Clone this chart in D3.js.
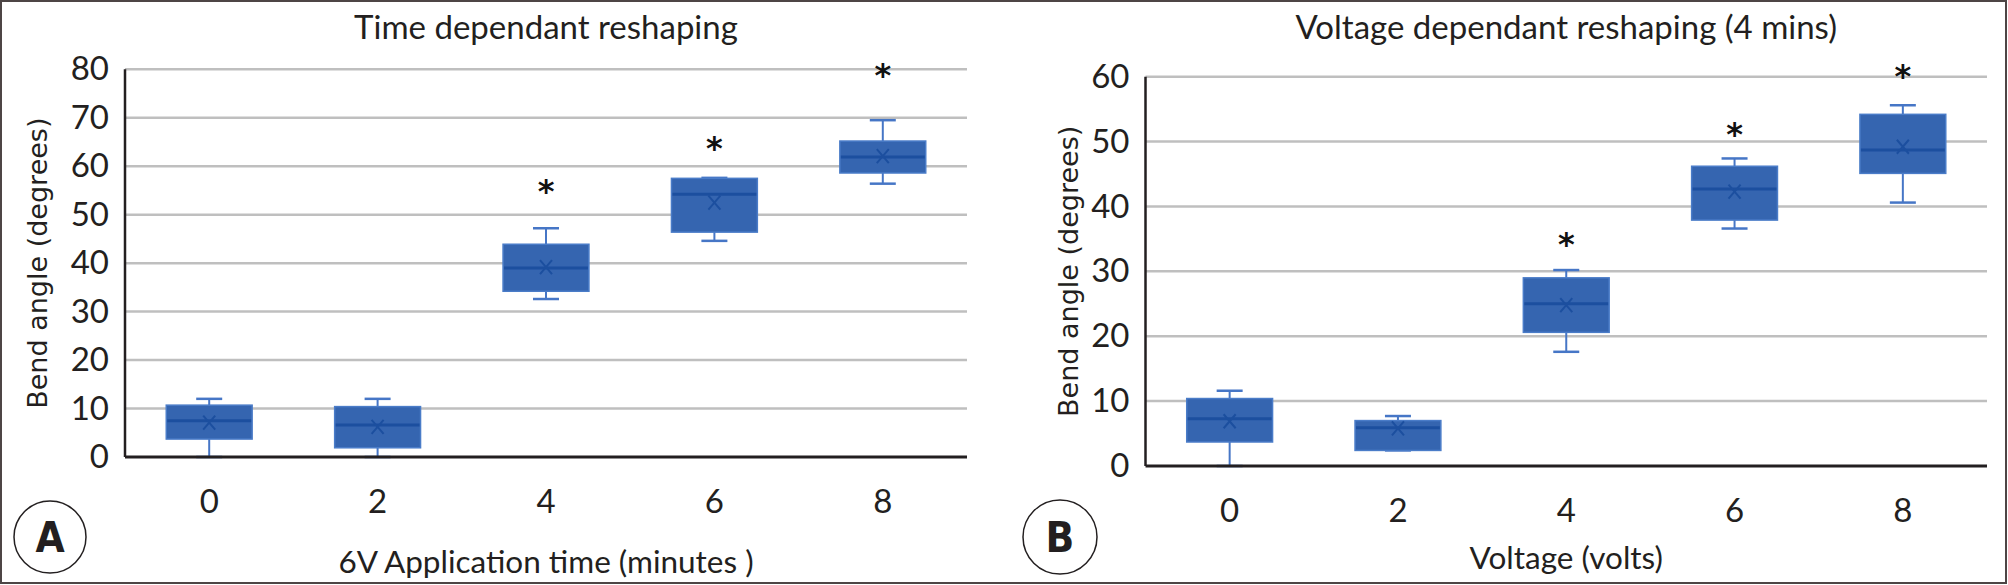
<!DOCTYPE html>
<html>
<head>
<meta charset="utf-8">
<script src="https://cdn.jsdelivr.net/npm/d3@7"></script>
<style>
  body { margin: 0; background: #fff; }
  svg { display: block; }
  .tick-label, .chart-title, .x-title { font-family: Lato, "Noto Sans", sans-serif; fill: #231f20; }
  .y-title { font-family: "DejaVu Sans", Verdana, sans-serif; fill: #231f20; }
  .panel-letter { font-family: "Liberation Sans Narrow", "DejaVu Sans Condensed", sans-serif; font-weight: bold; fill: #231f20; }
</style>
</head>
<body>
<div id="main"></div>
<script>
/*********************************************************
 * Data
 *********************************************************/
const categories = ['0', '2', '4', '6', '8'];

// Panel A: time dependant reshaping
const timeWhiskerLow = [0, 0, 32.6, 44.6, 56.4];
const timeQ1 = [3.7, 1.9, 34.2, 46.4, 58.6];
const timeMedian = [7.5, 6.6, 39.0, 54.2, 61.9];
const timeQ3 = [10.7, 10.4, 43.9, 57.5, 65.2];
const timeWhiskerHigh = [12, 12, 47.2, 57.6, 69.5];
const timeMean = [7.1, 6.2, 39.2, 52.5, 62.1];
const timeStars = [null, null, 56, 64.8, 79.8];
const timeTicks = [0, 10, 20, 30, 40, 50, 60, 70, 80];

// Panel B: voltage dependant reshaping
const voltWhiskerLow = [0, 2.4, 17.6, 36.6, 40.6];
const voltQ1 = [3.7, 2.4, 20.6, 37.9, 45.1];
const voltMedian = [7.3, 5.9, 25.0, 42.7, 48.7];
const voltQ3 = [10.4, 7.0, 29.0, 46.2, 54.2];
const voltWhiskerHigh = [11.6, 7.7, 30.2, 47.4, 55.6];
const voltMean = [6.9, 5.8, 24.8, 42.3, 49.2];
const voltStars = [null, null, 35.0, 51.9, 60.9];
const voltTicks = [0, 10, 20, 30, 40, 50, 60];

/*********************************************************
 * Layout
 *********************************************************/
const svgWidth = 2008;
const svgHeight = 585;

const panels = [
  {
    letter: 'A',
    title: 'Time dependant reshaping',
    xTitle: '6V Application time (minutes )',
    x0: 125, x1: 967, yTop: 69.3, yBottom: 457,
    letterX: 50, letterY: 537, letterR: 36,
    xLabelY: 513, xTitleY: 573, yTitleX: 47,
    ticks: timeTicks,
    low: timeWhiskerLow, q1: timeQ1, median: timeMedian, q3: timeQ3,
    high: timeWhiskerHigh, mean: timeMean, stars: timeStars
  },
  {
    letter: 'B',
    title: 'Voltage dependant reshaping (4 mins)',
    xTitle: 'Voltage (volts)',
    x0: 1145.5, x1: 1987, yTop: 76.7, yBottom: 466,
    letterX: 1060, letterY: 537, letterR: 37,
    xLabelY: 522, xTitleY: 569, yTitleX: 1078,
    ticks: voltTicks,
    low: voltWhiskerLow, q1: voltQ1, median: voltMedian, q3: voltQ3,
    high: voltWhiskerHigh, mean: voltMean, stars: voltStars
  }
];

const boxFill = '#3565b0';
const boxStroke = '#4a7cc8';
const medianColor = '#1c4f9f';
const whiskerColor = '#4676c6';

/*********************************************************
 * Generate svg
 *********************************************************/
const svg = d3.select('#main')
  .append('svg')
  .attr('width', svgWidth)
  .attr('height', svgHeight);

// outer frame
svg.append('rect')
  .attr('x', 1).attr('y', 1)
  .attr('width', svgWidth - 3).attr('height', svgHeight - 3)
  .attr('fill', 'none')
  .attr('stroke', '#4d4545')
  .attr('stroke-width', 2);

panels.forEach(drawPanel);

function drawPanel(p) {
  const g = svg.append('g');

  const x = d3.scaleBand()
    .domain(categories)
    .range([p.x0, p.x1]);

  const y = d3.scaleLinear()
    .domain([0, d3.max(p.ticks)])
    .range([p.yBottom, p.yTop]);

  const boxW = x.bandwidth() * 0.51;
  const capW = 26;

  // gridlines
  g.selectAll('.grid')
    .data(p.ticks.filter(t => t > 0))
    .enter().append('line')
    .attr('x1', p.x0).attr('x2', p.x1)
    .attr('y1', d => y(d)).attr('y2', d => y(d))
    .attr('stroke', '#bfbfbf')
    .attr('stroke-width', 2.5);

  // y axis labels
  const yAxis = d3.axisLeft(y).tickValues(p.ticks).tickSize(0).tickPadding(16);
  const gY = g.append('g')
    .attr('transform', `translate(${p.x0},0)`)
    .call(yAxis);
  gY.select('.domain').remove();
  gY.selectAll('text')
    .attr('class', 'tick-label')
    .attr('font-size', 33)
    .attr('fill', '#231f20');

  // x axis labels
  const xAxis = d3.axisBottom(x).tickSize(0).tickPadding(0);
  const gX = g.append('g')
    .attr('transform', `translate(0,${p.xLabelY})`)
    .call(xAxis);
  gX.select('.domain').remove();
  gX.selectAll('text')
    .attr('class', 'tick-label')
    .attr('font-size', 33)
    .attr('dy', 0)
    .attr('y', 0)
    .attr('fill', '#231f20');

  // boxes
  const boxes = g.selectAll('.box')
    .data(categories)
    .enter().append('g')
    .attr('class', 'box');

  const cx = (d) => x(d) + x.bandwidth() / 2;

  // whiskers
  boxes.append('line')
    .attr('x1', cx).attr('x2', cx)
    .attr('y1', (d, i) => y(p.low[i])).attr('y2', (d, i) => y(p.q1[i]))
    .attr('stroke', whiskerColor).attr('stroke-width', 2);
  boxes.append('line')
    .attr('x1', cx).attr('x2', cx)
    .attr('y1', (d, i) => y(p.q3[i])).attr('y2', (d, i) => y(p.high[i]))
    .attr('stroke', whiskerColor).attr('stroke-width', 2);
  boxes.append('line')
    .attr('x1', d => cx(d) - capW / 2).attr('x2', d => cx(d) + capW / 2)
    .attr('y1', (d, i) => y(p.low[i])).attr('y2', (d, i) => y(p.low[i]))
    .attr('stroke', whiskerColor).attr('stroke-width', 2.5);
  boxes.append('line')
    .attr('x1', d => cx(d) - capW / 2).attr('x2', d => cx(d) + capW / 2)
    .attr('y1', (d, i) => y(p.high[i])).attr('y2', (d, i) => y(p.high[i]))
    .attr('stroke', whiskerColor).attr('stroke-width', 2.5);

  // box body
  boxes.append('rect')
    .attr('x', d => cx(d) - boxW / 2)
    .attr('width', boxW)
    .attr('y', (d, i) => y(p.q3[i]))
    .attr('height', (d, i) => y(p.q1[i]) - y(p.q3[i]))
    .attr('fill', boxFill)
    .attr('stroke', boxStroke)
    .attr('stroke-width', 1.5);

  // median
  boxes.append('line')
    .attr('x1', d => cx(d) - boxW / 2 + 1).attr('x2', d => cx(d) + boxW / 2 - 1)
    .attr('y1', (d, i) => y(p.median[i])).attr('y2', (d, i) => y(p.median[i]))
    .attr('stroke', medianColor).attr('stroke-width', 3);

  // mean marker (x)
  const m = 6;
  boxes.append('path')
    .attr('d', (d, i) => {
      const px = cx(d), py = y(p.mean[i]);
      return `M${px - m},${py - m - 1}L${px + m},${py + m + 1}M${px + m},${py - m - 1}L${px - m},${py + m + 1}`;
    })
    .attr('stroke', medianColor)
    .attr('stroke-width', 2)
    .attr('fill', 'none');

  // significance stars
  boxes.filter((d, i) => p.stars[i] !== null)
    .append('text')
    .attr('x', cx)
    .attr('y', d => y(p.stars[categories.indexOf(d)]) + 16)
    .attr('text-anchor', 'middle')
    .attr('font-family', 'DejaVu Sans, sans-serif')
    .attr('font-weight', 'bold')
    .attr('font-size', 32)
    .attr('fill', '#111')
    .text('*');

  // axis lines
  g.append('line')
    .attr('x1', p.x0).attr('x2', p.x0)
    .attr('y1', p.yTop).attr('y2', p.yBottom)
    .attr('stroke', '#231f20').attr('stroke-width', 2.5);
  g.append('line')
    .attr('x1', p.x0).attr('x2', p.x1)
    .attr('y1', p.yBottom).attr('y2', p.yBottom)
    .attr('stroke', '#231f20').attr('stroke-width', 3);

  // titles
  g.append('text')
    .attr('class', 'chart-title')
    .attr('x', (p.x0 + p.x1) / 2)
    .attr('y', 39)
    .attr('text-anchor', 'middle')
    .attr('font-size', 33)
    .text(p.title);

  g.append('text')
    .attr('class', 'x-title')
    .attr('x', (p.x0 + p.x1) / 2)
    .attr('y', p.xTitleY)
    .attr('text-anchor', 'middle')
    .attr('font-size', 31.5)
    .text(p.xTitle);

  g.append('text')
    .attr('class', 'y-title')
    .attr('transform', `translate(${p.yTitleX},${(p.yTop + p.yBottom) / 2}) rotate(-90)`)
    .attr('text-anchor', 'middle')
    .attr('font-size', 27)
    .text('Bend angle (degrees)');

  // panel letter
  g.append('circle')
    .attr('cx', p.letterX).attr('cy', p.letterY).attr('r', p.letterR)
    .attr('fill', 'none')
    .attr('stroke', '#231f20')
    .attr('stroke-width', 1.5);
  g.append('text')
    .attr('class', 'panel-letter')
    .attr('x', p.letterX)
    .attr('y', p.letterY + 15)
    .attr('text-anchor', 'middle')
    .attr('font-size', 42)
    .text(p.letter);
}
</script>
</body>
</html>
